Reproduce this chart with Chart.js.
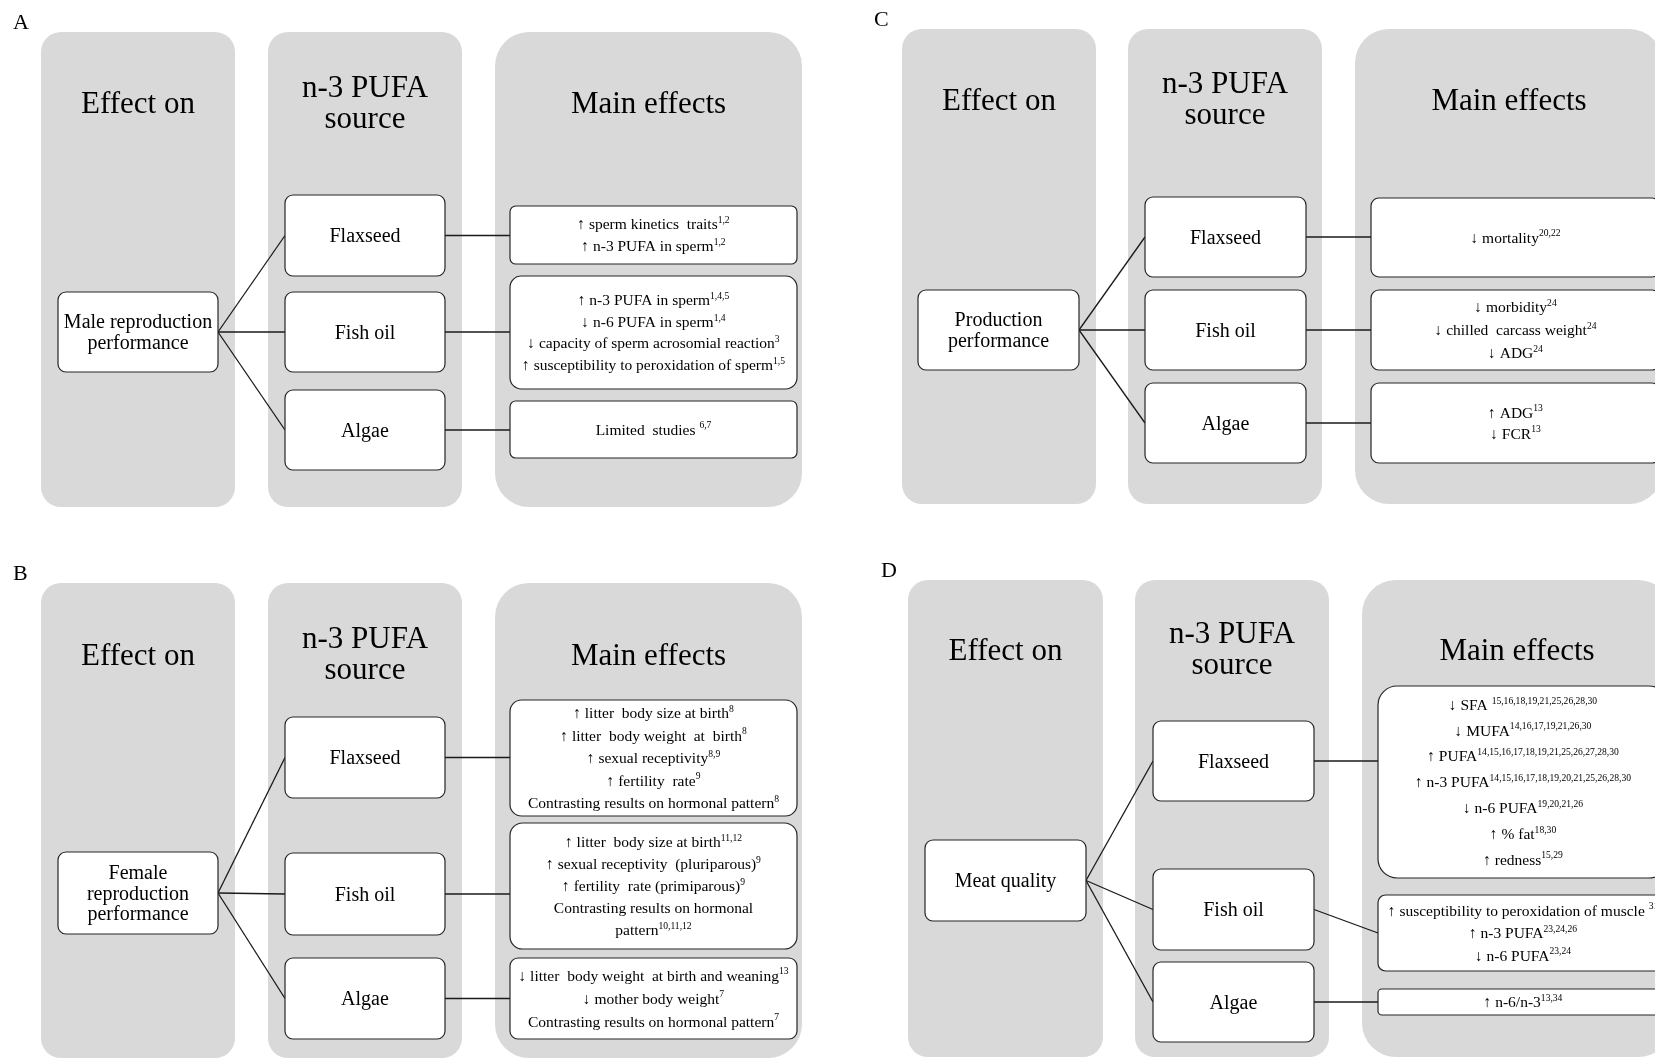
<!DOCTYPE html>
<html>
<head>
<meta charset="utf-8">
<script src="https://cdn.jsdelivr.net/npm/chart.js@4.4.1/dist/chart.umd.min.js"></script>
<style>
  html, body { margin: 0; padding: 0; background: #fff; overflow: hidden; }
  canvas { display: block; }
</style>
</head>
<body>
<canvas id="diagram" width="1655" height="1059" style="width:1655px;height:1059px"></canvas>
<script>
/* n-3 PUFA effects flow diagram */

// ---- text content ----
var panelLetters = ['A', 'B', 'C', 'D'];
var headerEffect = ['Effect on'];
var headerSource = ['n-3 PUFA', 'source'];
var headerMain = ['Main effects'];
var effectOn = [
  ['Male reproduction', 'performance'],
  ['Female', 'reproduction', 'performance'],
  ['Production', 'performance'],
  ['Meat quality']
];
var sources = ['Flaxseed', 'Fish oil', 'Algae'];
var effectsA = [
  ['\u2191 sperm kinetics  traits^1,2', '\u2191 n-3 PUFA in sperm^1,2'],
  ['\u2191 n-3 PUFA in sperm^1,4,5', '\u2193 n-6 PUFA in sperm^1,4',
   '\u2193 capacity of sperm acrosomial reaction^3', '\u2191 susceptibility to peroxidation of sperm^1,5'],
  ['Limited  studies ^6,7']
];
var effectsB = [
  ['\u2191 litter  body size at birth^8', '\u2191 litter  body weight  at  birth^8',
   '\u2191 sexual receptivity^8,9', '\u2191 fertility  rate^9', 'Contrasting results on hormonal pattern^8'],
  ['\u2191 litter  body size at birth^11,12', '\u2191 sexual receptivity  (pluriparous)^9',
   '\u2191 fertility  rate (primiparous)^9', 'Contrasting results on hormonal', 'pattern^10,11,12'],
  ['\u2193 litter  body weight  at birth and weaning^13', '\u2193 mother body weight^7',
   'Contrasting results on hormonal pattern^7']
];
var effectsC = [
  ['\u2193 mortality^20,22'],
  ['\u2193 morbidity^24', '\u2193 chilled  carcass weight^24', '\u2193 ADG^24'],
  ['\u2191 ADG^13', '\u2193 FCR^13']
];
var effectsD = [
  ['\u2193 SFA ^15,16,18,19,21,25,26,28,30', '\u2193 MUFA^14,16,17,19,21,26,30',
   '\u2191 PUFA^14,15,16,17,18,19,21,25,26,27,28,30', '\u2191 n-3 PUFA^14,15,16,17,18,19,20,21,25,26,28,30',
   '\u2193 n-6 PUFA^19,20,21,26', '\u2191 % fat^18,30', '\u2191 redness^15,29'],
  ['\u2191 susceptibility to peroxidation of muscle ^31', '\u2191 n-3 PUFA^23,24,26', '\u2193 n-6 PUFA^23,24'],
  ['\u2191 n-6/n-3^13,34']
];
var effects = [effectsA, effectsB, effectsC, effectsD];

// ---- geometry (canvas px) ----
var layout = [
  { letter: [13, 29], top: 32, bottom: 507,
    cols: [[41, 235], [268, 462], [495, 802]], headY: [113, 97, 113],
    effectBox: [58, 292, 218, 372],
    srcX: [285, 445], srcY: [[195, 276], [292, 372], [390, 470]],
    fxX: [510, 797], fxY: [[206, 264], [276, 389], [401, 458]],
    fxLine: [21.5, 21.5, 21.5], fxLinkY: [null, null, null] },
  { letter: [13, 580], top: 583, bottom: 1058,
    cols: [[41, 235], [268, 462], [495, 802]], headY: [665, 648, 665],
    effectBox: [58, 852, 218, 934],
    srcX: [285, 445], srcY: [[717, 798], [853, 935], [958, 1039]],
    fxX: [510, 797], fxY: [[700, 816], [823, 949], [958, 1039]],
    fxLine: [22.5, 22, 23], fxLinkY: [null, null, null] },
  { letter: [874, 26], top: 29, bottom: 504,
    cols: [[902, 1096], [1128, 1322], [1355, 1663]], headY: [110, 93, 110],
    effectBox: [918, 290, 1079, 370],
    srcX: [1145, 1306], srcY: [[197, 277], [290, 370], [383, 463]],
    fxX: [1371, 1660], fxY: [[198, 277], [290, 370], [383, 463]],
    fxLine: [22, 23, 21], fxLinkY: [null, null, null] },
  { letter: [881, 577], top: 580, bottom: 1057,
    cols: [[908, 1103], [1135, 1329], [1362, 1672]], headY: [660, 643, 660],
    effectBox: [925, 840, 1086, 921],
    srcX: [1153, 1314], srcY: [[721, 801], [869, 950], [962, 1042]],
    fxX: [1378, 1668], fxY: [[686, 878], [895, 971], [989, 1015]],
    fxLine: [25.8, 22.5, 22], fxLinkY: [null, 933, null] }
];

var SERIF = '"Liberation Serif", "Times New Roman", "DejaVu Serif", serif';
var PANEL_GREY = '#d9d9d9';

// ---- connector lines as datasets ----
var links = [];
layout.forEach(function (L) {
  var eb = L.effectBox;
  var ex = eb[2], ey = (eb[1] + eb[3]) / 2;
  L.srcY.forEach(function (sy, i) {
    var cy = (sy[0] + sy[1]) / 2;
    links.push([{ x: ex, y: ey }, { x: L.srcX[0], y: cy }]);
    var ty = L.fxLinkY[i] != null ? L.fxLinkY[i] : cy;
    links.push([{ x: L.srcX[1], y: cy }, { x: L.fxX[0], y: ty }]);
  });
});

function roundRect(ctx, x0, y0, x1, y1, r) {
  var w = x1 - x0, h = y1 - y0;
  r = Math.min(r, w / 2, h / 2);
  ctx.beginPath();
  ctx.moveTo(x0 + r, y0);
  ctx.arcTo(x1, y0, x1, y1, r);
  ctx.arcTo(x1, y1, x0, y1, r);
  ctx.arcTo(x0, y1, x0, y0, r);
  ctx.arcTo(x0, y0, x1, y0, r);
  ctx.closePath();
}

function drawRich(ctx, str, cx, cy, size) {
  var parts = str.split('^');
  var main = parts[0], sup = parts[1] || '';
  var supSize = size * 0.62;
  ctx.font = size + 'px ' + SERIF;
  var w1 = ctx.measureText(main).width;
  ctx.font = supSize + 'px ' + SERIF;
  var w2 = ctx.measureText(sup).width;
  var x = cx - (w1 + w2) / 2;
  var base = cy + size * 0.33;
  ctx.textAlign = 'left';
  ctx.textBaseline = 'alphabetic';
  ctx.font = size + 'px ' + SERIF;
  ctx.fillText(main, x, base);
  if (sup) {
    ctx.font = supSize + 'px ' + SERIF;
    ctx.fillText(sup, x + w1, base - size * 0.4);
  }
}

function drawLines(ctx, lines, cx, cy, size, lh) {
  var y0 = cy - (lines.length - 1) * lh / 2;
  lines.forEach(function (t, i) { drawRich(ctx, t, cx, y0 + i * lh, size); });
}

function box(ctx, chart, r, radius) {
  var sx = chart.scales.x, sy = chart.scales.y;
  var x0 = sx.getPixelForValue(r[0]), y0 = sy.getPixelForValue(r[1]);
  var x1 = sx.getPixelForValue(r[2]), y1 = sy.getPixelForValue(r[3]);
  roundRect(ctx, x0, y0, x1, y1, radius);
  ctx.fillStyle = '#fff';
  ctx.fill();
  ctx.lineWidth = 1.2;
  ctx.strokeStyle = '#262626';
  ctx.stroke();
  return [(x0 + x1) / 2, (y0 + y1) / 2, x1 - x0, y1 - y0];
}

function boxRadius(L, i) {
  var w = L.fxX[1] - L.fxX[0], h = L.fxY[i][1] - L.fxY[i][0];
  return Math.max(4, Math.min(w, h) * 0.1);
}

var panelsPlugin = {
  id: 'panels',
  beforeDraw: function (chart) {
    var ctx = chart.ctx;
    ctx.save();
    ctx.fillStyle = '#fff';
    ctx.fillRect(0, 0, chart.width, chart.height);
    ctx.restore();
  },
  beforeDatasetsDraw: function (chart) {
    var ctx = chart.ctx, sx = chart.scales.x, sy = chart.scales.y;
    ctx.save();
    layout.forEach(function (L, p) {
      ctx.fillStyle = '#000';
      ctx.font = '22px ' + SERIF;
      ctx.textAlign = 'left';
      ctx.textBaseline = 'alphabetic';
      ctx.fillText(panelLetters[p], sx.getPixelForValue(L.letter[0]), sy.getPixelForValue(L.letter[1]));

      var heads = [headerEffect, headerSource, headerMain];
      L.cols.forEach(function (c, i) {
        var x0 = sx.getPixelForValue(c[0]), x1 = sx.getPixelForValue(c[1]);
        roundRect(ctx, x0, sy.getPixelForValue(L.top), x1, sy.getPixelForValue(L.bottom), i === 2 ? 34 : 20);
        ctx.fillStyle = PANEL_GREY;
        ctx.fill();
        ctx.fillStyle = '#000';
        ctx.font = '31px ' + SERIF;
        ctx.textAlign = 'center';
        heads[i].forEach(function (t, k) {
          ctx.fillText(t, (x0 + x1) / 2, sy.getPixelForValue(L.headY[i] + k * 31));
        });
      });
    });
    ctx.restore();
  },
  afterDatasetsDraw: function (chart) {
    var ctx = chart.ctx;
    ctx.save();
    layout.forEach(function (L, p) {
      var b = box(ctx, chart, L.effectBox, 8);
      ctx.fillStyle = '#000';
      drawLines(ctx, effectOn[p], b[0], b[1], 20, 20.5);

      L.srcY.forEach(function (yy, i) {
        var s = box(ctx, chart, [L.srcX[0], yy[0], L.srcX[1], yy[1]], 8);
        ctx.fillStyle = '#000';
        drawRich(ctx, sources[i], s[0], s[1], 20);

        var f = box(ctx, chart, [L.fxX[0], L.fxY[i][0], L.fxX[1], L.fxY[i][1]], boxRadius(L, i));
        ctx.fillStyle = '#000';
        drawLines(ctx, effects[p][i], f[0], f[1], 15.5, L.fxLine[i]);
      });
    });
    ctx.restore();
  }
};

new Chart(document.getElementById('diagram'), {
  type: 'scatter',
  data: {
    datasets: links.map(function (d) {
      return {
        data: d,
        showLine: true,
        borderColor: '#1a1a1a',
        borderWidth: 1.3,
        pointRadius: 0,
        pointHoverRadius: 0,
        fill: false
      };
    })
  },
  options: {
    responsive: false,
    animation: false,
    devicePixelRatio: 1,
    layout: { padding: 0 },
    events: [],
    plugins: { legend: { display: false }, tooltip: { enabled: false } },
    scales: {
      x: { type: 'linear', min: 0, max: 1655, display: false },
      y: { type: 'linear', min: 0, max: 1059, reverse: true, display: false }
    }
  },
  plugins: [panelsPlugin]
});
</script>
</body>
</html>
